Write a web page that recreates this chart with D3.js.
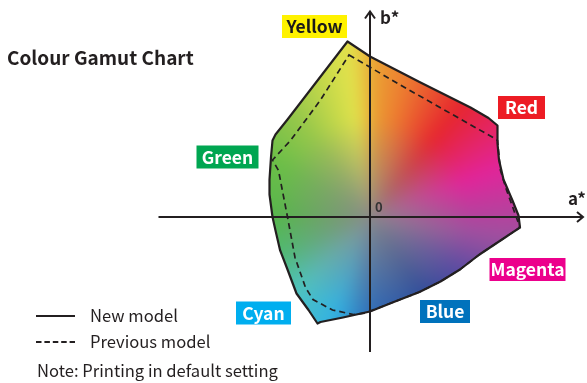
<!DOCTYPE html>
<html lang="en">
<head>
    <meta charset="UTF-8">
    <title>Colour Gamut Chart</title>
    <script src="https://d3js.org/d3.v7.min.js"></script>
    <style>
        body { margin: 0; background: #fff; }
        #chart { position: relative; width: 587px; height: 383px; }
        #chart canvas, #chart svg { position: absolute; left: 0; top: 0; }
        text { font-family: "Noto Sans CJK JP", "Noto Sans", sans-serif; fill: #231f20; }
    </style>
</head>
<body>
    <div id="chart"></div>

    <script>
        // new model gamut outline, a* and b* of each corner point
        const newModelA = [-15, 0, 33, 67, 79, 85, 85, 85, 86, 89, 95, 99, 100, 91, 73, 60, 47, 33, 15, 0, -18, -33, -35, -41, -49, -55, -60, -63, -65, -67, -67, -66, -65, -63, -55];
        const newModelB = [117, 107, 90, 73, 66, 61, 57, 49, 38, 25, 11, 1, -7, -13, -25, -35, -43, -50, -57, -63, -67, -70, -71, -62, -51, -35, -22, -9, 0, 15, 25, 40, 51, 55, 65];

        // previous model gamut outline
        const prevModelA = [-14, 22, 82, 85, 87, 91, 95, 100, 91, 73, 60, 47, 33, 15, -3, -11, -25, -38, -43, -50, -55, -61, -65, -53, -33];
        const prevModelB = [108, 87, 53, 51, 31, 18, 7, -7, -13, -25, -35, -43, -50, -57, -64, -65, -62, -55, -47, -27, 0, 31, 38, 51, 78];

        // primary / secondary colour labels and where they sit in the a*b* plane
        const cornerNames = ["Yellow", "Red", "Magenta", "Blue", "Cyan", "Green"];
        const cornerA = [-37, 101, 105, 50, -71, -95];
        const cornerB = [127, 73, -35, -63, -64, 40];

        // hue of the fill by angle (degrees) round the origin
        const hueAngles = [-180, -158, -134, -110, -90, -55, -30, -8, 21, 51, 75, 88, 97, 105, 125, 149, 180];
        const hueColours = ["#55b74a", "#4fba72", "#4ec2c0", "#33b2e2", "#2f6cb8", "#2c4a9b", "#5d4ca2", "#a0509f", "#e2249a", "#e6262e", "#ec7a30", "#eba033", "#e3e34c", "#cfdc4a", "#98c84a", "#6cbe48", "#55b74a"];

        const legendNames = ["New model", "Previous model"];
        const noteText = "Note: Printing in default setting";

        const W = 587, H = 383;
        const labelFill = { Yellow: "#fff200", Red: "#ed1c24", Magenta: "#ec008c", Blue: "#0072bc", Cyan: "#00aeef", Green: "#00a651" };
        const labelWidth = { Yellow: 65, Red: 47, Magenta: 76, Blue: 50, Cyan: 55, Green: 62 };

        // 1.5px per unit, origin at (370, 217)
        const x = d3.scaleLinear().domain([-100, 100]).range([220, 520]);
        const y = d3.scaleLinear().domain([-100, 100]).range([367, 67]);

        const outline = d3.line().x(d => x(d[0])).y(d => y(d[1])).curve(d3.curveLinearClosed);
        const newPts = newModelA.map((a, i) => [a, newModelB[i]]);
        const prevPts = prevModelA.map((a, i) => [a, prevModelB[i]]);

        const chart = d3.select("#chart");

        // colour fill drawn on a canvas, softened, then clipped by the new model outline
        const canvas = chart.append("canvas").attr("width", W).attr("height", H).node();
        const ctx = canvas.getContext("2d");
        const hue = d3.scaleLinear().domain(hueAngles).range(hueColours).interpolate(d3.interpolateRgb);
        const hueTable = d3.range(0, 361).map(d => d3.rgb(hue(d - 180)));
        const grey = d3.rgb("#8b8a8a");

        const off = document.createElement("canvas");
        off.width = W; off.height = H;
        const octx = off.getContext("2d");
        const img = octx.createImageData(W, H);
        const pad = 30;
        const x0 = Math.max(0, Math.floor(x(d3.min(newModelA))) - pad), x1 = Math.min(W, Math.ceil(x(d3.max(newModelA))) + pad);
        const y0 = Math.max(0, Math.floor(y(d3.max(newModelB))) - pad), y1 = Math.min(H, Math.ceil(y(d3.min(newModelB))) + pad);
        for (let py = y0; py < y1; py++) {
            for (let px = x0; px < x1; px++) {
                const a = x.invert(px + 0.5), b = y.invert(py + 0.5);
                const ang = Math.atan2(b, a) * 180 / Math.PI;
                const c = hueTable[Math.round(ang) + 180];
                let t = Math.min(1, Math.hypot(a, b) / 66);
                t = Math.pow(t, 0.85);
                const k = (py * W + px) * 4;
                img.data[k] = grey.r + (c.r - grey.r) * t;
                img.data[k + 1] = grey.g + (c.g - grey.g) * t;
                img.data[k + 2] = grey.b + (c.b - grey.b) * t;
                img.data[k + 3] = 255;
            }
        }
        octx.putImageData(img, 0, 0);
        ctx.save();
        ctx.clip(new Path2D(outline(newPts)));
        ctx.filter = "blur(7px)";
        ctx.drawImage(off, 0, 0);
        ctx.restore();

        const svg = chart.append("svg").attr("width", W).attr("height", H);

        // axes
        const axisColour = "#231f20";
        const ax = svg.append("g").attr("stroke", axisColour).attr("stroke-width", 2).attr("fill", "none");
        ax.append("line").attr("x1", x(-141)).attr("x2", x(142)).attr("y1", y(0)).attr("y2", y(0));
        ax.append("path").attr("d", `M${x(142) - 6},${y(0) - 5}L${x(142)},${y(0)}L${x(142) - 6},${y(0) + 5}`);
        ax.append("line").attr("x1", x(0)).attr("x2", x(0)).attr("y1", y(-90)).attr("y2", y(137));
        ax.append("path").attr("d", `M${x(0) - 5},${y(137) + 7}L${x(0)},${y(137)}L${x(0) + 5},${y(137) + 7}`);

        // outlines
        svg.append("path").attr("d", outline(prevPts))
           .attr("fill", "none").attr("stroke", axisColour).attr("stroke-width", 1.7)
           .attr("stroke-dasharray", "6,4");
        svg.append("path").attr("d", outline(newPts))
           .attr("fill", "none").attr("stroke", axisColour).attr("stroke-width", 2.2)
           .attr("stroke-linejoin", "round");

        // axis names
        svg.append("text").attr("x", x(0) + 10).attr("y", 24).attr("font-size", 17).attr("font-weight", 700).text("b*");
        svg.append("text").attr("x", 568).attr("y", y(0) - 12).attr("font-size", 17).attr("font-weight", 700).text("a*");
        svg.append("text").attr("x", x(0) + 5).attr("y", y(0) - 5).attr("font-size", 13).attr("font-weight", 700)
           .style("fill", "#333").text("0");

        // corner labels
        const labels = svg.selectAll(".corner").data(cornerNames).enter().append("g")
            .attr("class", "corner")
            .attr("transform", (d, i) => `translate(${x(cornerA[i])},${y(cornerB[i])})`);
        labels.append("rect")
            .attr("x", d => -labelWidth[d] / 2).attr("y", -11.5)
            .attr("width", d => labelWidth[d]).attr("height", 23)
            .attr("fill", d => labelFill[d]);
        labels.append("text")
            .attr("text-anchor", "middle").attr("y", 6.5)
            .attr("font-size", 17.5).attr("font-weight", 700)
            .style("fill", d => d === "Yellow" ? "#1a1a1a" : "#fff")
            .text(d => d);

        // title
        svg.append("text").attr("x", 7).attr("y", 65).attr("font-size", 19).attr("font-weight", 700)
           .text("Colour Gamut Chart");

        // legend
        const legend = svg.selectAll(".legend").data(legendNames).enter().append("g")
            .attr("class", "legend")
            .attr("transform", (d, i) => `translate(36,${316 + i * 26})`);
        legend.append("line").attr("x1", 0).attr("x2", 39)
            .attr("stroke", axisColour).attr("stroke-width", 1.8)
            .attr("stroke-dasharray", (d, i) => i ? "5.5,2.9" : null);
        legend.append("text").attr("x", 54).attr("y", 6).attr("font-size", 16.6).text(d => d);

        svg.append("text").attr("x", 37).attr("y", 377).attr("font-size", 16.6).text(noteText);
    </script>
</body>
</html>
